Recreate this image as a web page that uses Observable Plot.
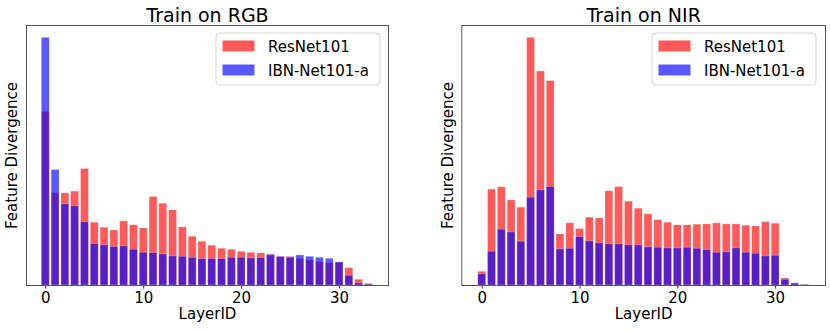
<!DOCTYPE html>
<html>
<head>
<meta charset="utf-8">
<script src="https://cdn.jsdelivr.net/npm/d3@7"></script>
<script src="https://cdn.jsdelivr.net/npm/@observablehq/plot@0.6"></script>
<style>
  body { margin: 0; background: #fff; }
  #wrap { display: flex; width: 830px; height: 331px; }
  #wrap > div { width: 415px; height: 331px; }
  svg { display: block; }
</style>
</head>
<body>
<div id="wrap"><div id="left"></div><div id="right"></div></div>
<script>
// ---- data (arbitrary units) ----
const layerIds = d3.range(34);
const xTicks = [0, 10, 20, 30];
const seriesNames = ["ResNet101", "IBN-Net101-a"];
const seriesColors = ["#ff0000", "#0000ff"];
const panelTitles = ["Train on RGB", "Train on NIR"];

const rgbResNet = [173.3, 92.3, 92, 93.7, 116.3, 62.7, 57.7, 55, 64, 60, 57, 88.3, 81.7, 75, 58, 48.7, 43.7, 39.7, 36.7, 35.7, 33.7, 32.7, 32, 31, 29, 28.7, 26.3, 25, 23.3, 22.3, 22.7, 17.3, 5.7, 1.7];
const rgbIBN    = [247.3, 115.3, 81, 79, 63, 41.3, 40, 38.3, 39, 35.7, 32.7, 32.3, 31, 29, 28.7, 27.7, 26.3, 26.3, 26.3, 27.7, 27.7, 27, 27.3, 30, 28.3, 27.7, 30, 28.7, 27.7, 26.7, 23, 9.7, 2, 1];

const nirResNet = [13.7, 95.7, 98, 85, 77.7, 247.3, 213.7, 204, 51, 62, 56.3, 67.7, 67, 94, 98.3, 83.7, 76.7, 71, 65.3, 62.7, 60, 60, 60.7, 61, 62, 61, 61, 59.7, 59, 63.3, 61.7, 7, 1.5, 0.3];
const nirIBN    = [11, 33.7, 55.7, 53, 43.7, 87.7, 95, 98.3, 36, 36.7, 48.3, 44, 42, 41, 41, 40, 40, 38, 37.7, 37, 37, 37.7, 36.7, 35.3, 32.7, 33, 37, 32.7, 31.7, 29, 29.7, 5.7, 2, 0.7];

const barWidth = 0.8;
const alpha = 0.65;

function panel(el, title, resnet, ibn, opts) {
  const rows = (vals, s) => layerIds.map((id, i) => ({id, v: vals[i], s}));
  const dataR = rows(resnet, 0), dataB = rows(ibn, 1);
  const ymax = Math.max(d3.max(resnet), d3.max(ibn)) * 1.05;
  const plot = Plot.plot({
    width: 415, height: 331,
    marginLeft: opts.ml, marginRight: opts.mr, marginTop: 25, marginBottom: 46,
    style: {fontFamily: "DejaVu Sans", fontSize: "15px", color: "#000", background: "#fff"},
    x: {domain: opts.xdom, axis: null},
    y: {domain: [0, ymax], axis: null},
    marks: [
      Plot.rectY(dataR, {x1: d => d.id - barWidth / 2, x2: d => d.id + barWidth / 2, y1: 0, y2: "v",
        fill: seriesColors[0], fillOpacity: alpha, stroke: "#fff", strokeOpacity: 0.35, strokeWidth: 0.6}),
      Plot.rectY(dataB, {x1: d => d.id - barWidth / 2, x2: d => d.id + barWidth / 2, y1: 0, y2: "v",
        fill: seriesColors[1], fillOpacity: alpha, stroke: "#fff", strokeOpacity: 0.35, strokeWidth: 0.6}),
      Plot.axisX({ticks: xTicks, tickSize: 3.5, tickPadding: 3.5, label: null, fontSize: 15, stroke: "#333"}),
      Plot.frame({stroke: "#555", strokeWidth: 1}),
      Plot.text([title], {frameAnchor: "top", text: d => d, dy: -4, lineAnchor: "bottom", fontSize: 19}),
      Plot.text(["LayerID"], {frameAnchor: "bottom", text: d => d, dy: 33, lineAnchor: "bottom", fontSize: 15}),
      Plot.text(["Feature Divergence"], {frameAnchor: "left", text: d => d, rotate: -90, dx: opts.ydx,
        textAnchor: "middle", lineAnchor: "bottom", fontSize: 15})
    ]
  });
  // legend inside the axes (upper right)
  const svg = d3.select(plot);
  const g = svg.append("g").attr("font-family", "DejaVu Sans").attr("font-size", 15).attr("text-anchor", "start");
  g.append("rect").attr("x", opts.lx).attr("y", 33).attr("width", 164).attr("height", 52)
    .attr("rx", 4).attr("fill", "#fff").attr("fill-opacity", 0.8).attr("stroke", "#d6d6d6");
  seriesNames.forEach((name, i) => {
    g.append("rect").attr("x", opts.lx + 6.5).attr("y", 40.5 + i * 24).attr("width", 32).attr("height", 11)
      .attr("fill", seriesColors[i]).attr("fill-opacity", alpha);
    g.append("text").attr("x", opts.lx + 52).attr("y", 52 + i * 24).text(name).attr("fill", "#000");
  });
  el.appendChild(plot);
}

panel(document.getElementById("left"), panelTitles[0], rgbResNet, rgbIBN,
  {ml: 26, mr: 27, xdom: [-1.97, 35.0], ydx: -9.5, lx: 216});
panel(document.getElementById("right"), panelTitles[1], nirResNet, nirIBN,
  {ml: 46.3, mr: 5, xdom: [-2.09, 35.1], ydx: -8.6, lx: 237});
</script>
</body>
</html>
